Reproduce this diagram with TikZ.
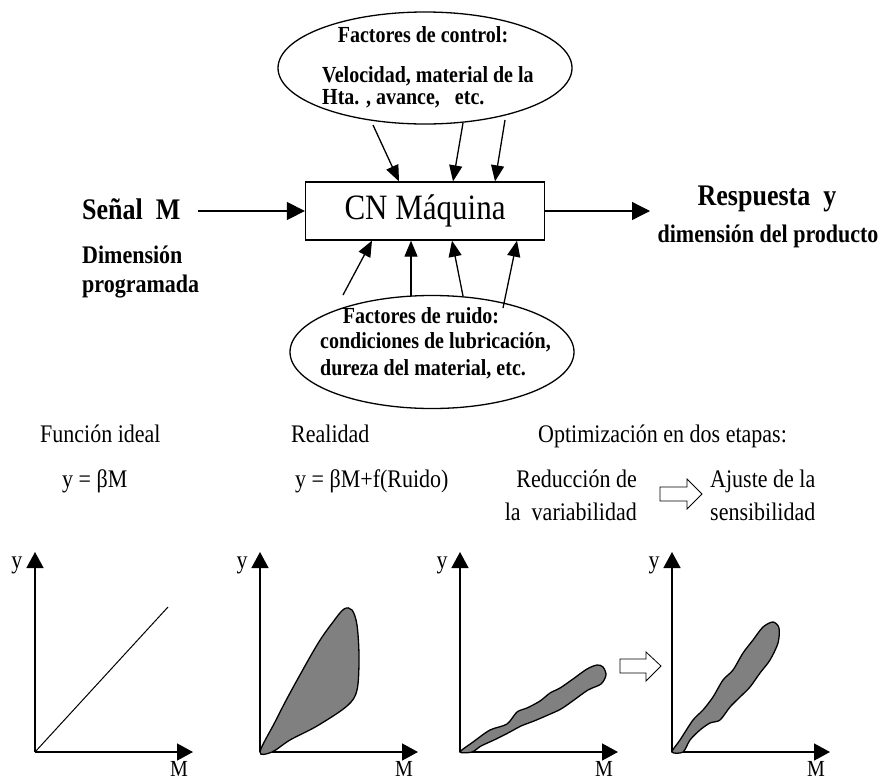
\documentclass[tikz,border=0pt]{standalone}
\usepackage{graphicx}
\usepackage{fontspec}
\setmainfont{Liberation Serif}
\usetikzlibrary{arrows.meta,shapes.geometric,calc}
\newcommand{\tallt}[1]{\scalebox{1}[1.15]{#1}}
\begin{document}
\begin{tikzpicture}[x=1pt,y=-1pt,
  lb/.style={inner sep=0pt},
  bt20/.style={lb,font=\fontsize{20}{24}\selectfont\bfseries},
  bt22/.style={lb,font=\fontsize{22}{26}\selectfont\bfseries},
  bt26/.style={lb,font=\fontsize{26}{30}\selectfont\bfseries},
  rt22/.style={lb,font=\fontsize{22}{26}\selectfont},
  rt20/.style={lb,font=\fontsize{20}{24}\selectfont},
  oval/.style={ellipse,draw,line width=1.3pt,inner sep=0pt},
  bigarr/.style={line width=1.3pt,-{Triangle[length=18pt,width=18pt]}},
  smarr/.style={line width=1.3pt,-{Triangle[length=16pt,width=13pt]}},
  axarr/.style={line width=1.5pt,-{Triangle[length=16pt,width=17pt]}},
  blob/.style={line width=1.3pt,fill=black!50,draw=black},
  hollow/.style={draw=black,line width=0.8pt,fill=white}
]
\useasboundingbox (0,0) rectangle (883,782);

% --- control factors ellipse
\node[oval,minimum width=294pt,minimum height=112pt] (ctrl) at (425,68) {};
\node[bt20,anchor=base] (ct1) at (423,42) {\tallt{Factores de control:}};
\node[bt20,anchor=base west] (ct2) at (322,82) {\tallt{Velocidad, material de la}};
\node[bt20,anchor=base west] (ct3) at (322,104) {\tallt{Hta. , avance,\ \ \ etc.}};

% --- machine box
\node[draw,line width=1.3pt,minimum width=239pt,minimum height=58pt,inner sep=0pt,
      font=\fontsize{31}{36}\selectfont] (box) at (425,211) {\tallt{CN Máquina}};

% --- signal / response
\node[bt26,anchor=base west] (senal) at (82,219) {\tallt{Señal\ \ M}};
\node[bt22,anchor=base west] (dim) at (82,263) {\tallt{Dimensión}};
\node[bt22,anchor=base west] (prog) at (82,292) {\tallt{programada}};
\node[bt26,anchor=base] (resp) at (767,205) {\tallt{Respuesta\ \ y}};
\node[bt22,anchor=base] (dprod) at (768,242) {\tallt{dimensión del producto}};
\coordinate (sin) at (198,211);
\coordinate (sout) at (650,211);
\draw[bigarr] (sin) -- (box.west);
\draw[bigarr] (box.east) -- (sout);

% --- noise ellipse
\node[oval,minimum width=284pt,minimum height=113pt] (noise) at (432,352) {};
\node[bt20,anchor=base] (nt1) at (421,323) {\tallt{Factores de ruido:}};
\node[bt20,anchor=base west] (nt2) at (320,348) {\tallt{condiciones de lubricación,}};
\node[bt20,anchor=base west] (nt3) at (320,375) {\tallt{dureza del material,\ etc.}};

% --- control arrows
\draw[smarr] ([shift={(-52,57)}]ctrl.center) -- ([xshift=-26pt]box.north);
\draw[smarr] ([shift={(38,55)}]ctrl.center) -- ([xshift=28pt]box.north);
\draw[smarr] ([shift={(80,52)}]ctrl.center) -- ([xshift=70pt]box.north);

% --- noise arrows
\draw[smarr] ([shift={(-89,-57)}]noise.center) -- ([xshift=-53pt]box.south);
\draw[smarr] ([shift={(-21,-56)}]noise.center) -- ([xshift=-14pt]box.south);
\draw[smarr] ([shift={(31,-56)}]noise.center) -- ([xshift=27pt]box.south);
\draw[smarr] ([shift={(71,-44)}]noise.center) -- ([xshift=92pt]box.south);

% --- lower captions
\node[rt22,anchor=base west] (fi) at (40,442) {\tallt{Función ideal}};
\node[rt22,anchor=base west] (re) at (291,442) {\tallt{Realidad}};
\node[rt22,anchor=base west] (op) at (538,442) {\tallt{Optimización en dos etapas:}};
\node[rt22,anchor=base west] (eq1) at (62,487) {\tallt{y = βM}};
\node[rt22,anchor=base west] (eq2) at (295,487) {\tallt{y = βM+f(Ruido)}};
\node[rt22,anchor=base east] (rd1) at (637,487) {\tallt{Reducción de}};
\node[rt22,anchor=base east] (rd2) at (637,520) {\tallt{la\ \ variabilidad}};
\node[rt22,anchor=base west] (aj1) at (710,487) {\tallt{Ajuste de la}};
\node[rt22,anchor=base west] (aj2) at (710,520) {\tallt{sensibilidad}};

% hollow arrows
\draw[hollow] (660,487) -- (687,487) -- (687,479) -- (702,494) -- (687,509) -- (687,501) -- (660,501) -- cycle;
\draw[hollow] (620,659) -- (646,659) -- (646,652) -- (661,666) -- (646,681) -- (646,673) -- (620,673) -- cycle;

% --- graphs
\foreach \i/\ox in {1/35,2/260,3/460,4/672}{
  \coordinate (o\i) at (\ox,752);
  \draw[axarr] (o\i) -- (\ox,552);
  \draw[axarr] (o\i) -- (\ox+158,752);
  \node[rt22,anchor=base] (ylab\i) at (\ox-18,568) {\tallt{y}};
  \node[rt20,anchor=base] (mlab\i) at (\ox+144,776) {\tallt{M}};
}
\draw[line width=1pt] (o1) -- (168,607);

\draw[blob] plot[smooth cycle,tension=0.55] coordinates {
  (260,752) (275,722) (290,693) (317,645) (333,622) (344,609) (352,610)
  (357,625) (359,657) (357,690) (347,706) (317,726) (290,740) (272,752)};

\draw[blob] plot[smooth cycle,tension=0.5] coordinates {
  (460,752) (473,742) (490,730) (507,724) (517,712) (527,708) (540,701)
  (550,693) (560,688) (573,679) (587,669) (597,665) (603,667) (606,675)
  (601,684) (588,690) (574,700) (561,709) (548,715) (534,721) (521,726)
  (508,733) (494,740) (481,746) (472,752)};

\draw[blob] plot[smooth cycle,tension=0.5] coordinates {
  (672,752) (680,740) (693,720) (703,710) (713,697) (723,680) (733,670)
  (743,653) (753,640) (763,627) (773,622) (779,628) (778,643) (770,660)
  (760,673) (750,687) (740,697) (730,707) (720,720) (710,723) (700,730)
  (690,740) (683,752)};
\end{tikzpicture}
\end{document}
